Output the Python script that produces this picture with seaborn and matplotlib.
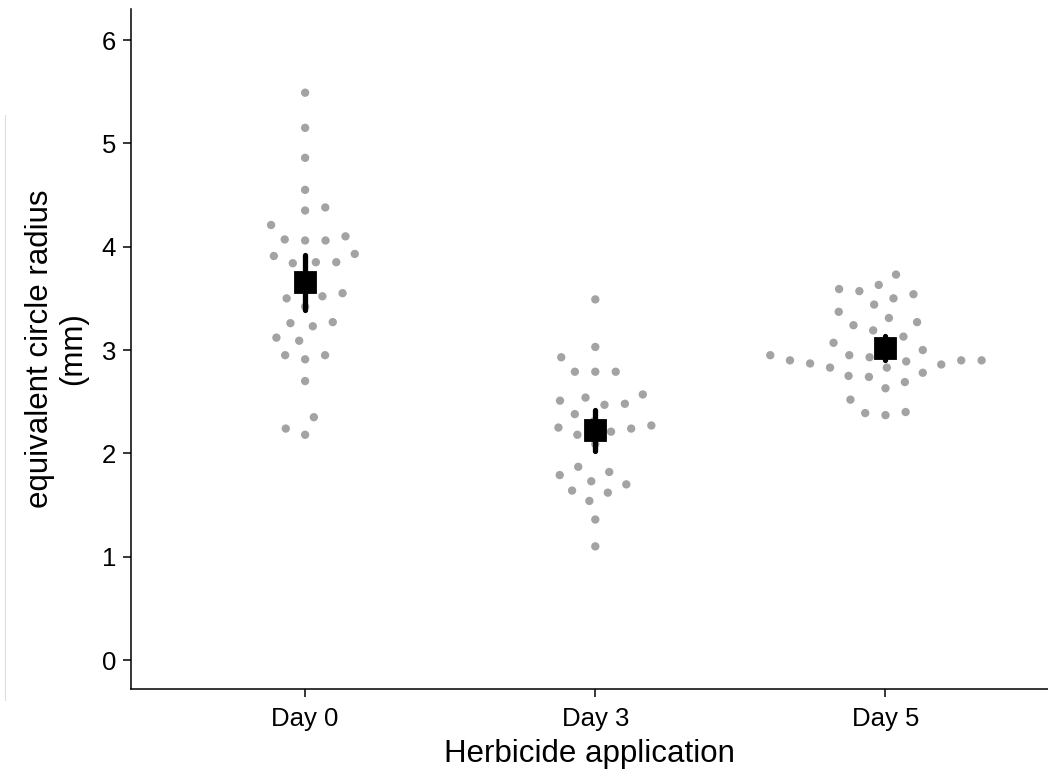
import pandas as pd
import matplotlib.pyplot as plt
from matplotlib.lines import Line2D
import seaborn as sns

# Values (equivalent circle radius, mm)
days = ['Day 0', 'Day 3', 'Day 5']

day0 = [5.49, 5.15, 4.86, 4.55, 4.38, 4.35, 4.21, 4.06, 4.07, 4.06, 4.10,
        3.93, 3.91, 3.85, 3.85, 3.84, 3.69, 3.55, 3.52, 3.50, 3.42, 3.27,
        3.26, 3.23, 3.12, 3.09, 2.95, 2.91, 2.95, 2.70, 2.35, 2.24, 2.18]
day3 = [3.49, 3.03, 2.93, 2.79, 2.79, 2.79, 2.54, 2.51, 2.57, 2.47, 2.48,
        2.38, 2.27, 2.25, 2.18, 2.24, 2.31, 2.21, 2.09, 1.87, 1.82, 1.79,
        1.73, 1.70, 1.62, 1.64, 1.54, 1.36, 1.10]
day5 = [3.73, 3.57, 3.63, 3.59, 3.54, 3.50, 3.44, 3.37, 3.31, 3.27, 3.24,
        3.19, 3.07, 3.00, 3.04, 3.13, 2.95, 2.93, 2.95, 2.90, 2.90, 2.86,
        2.89, 2.90, 2.87, 2.83, 2.83, 2.78, 2.75, 2.74, 2.69, 2.63, 2.52,
        2.39, 2.37, 2.40]

df = pd.DataFrame({
    'day': ['Day 0'] * len(day0) + ['Day 3'] * len(day3) + ['Day 5'] * len(day5),
    'radius': day0 + day3 + day5,
})

sns.set_style('ticks')
plt.rcParams['font.family'] = ['Liberation Sans', 'DejaVu Sans']
plt.rcParams['text.color'] = 'black'
plt.rcParams['axes.labelcolor'] = 'black'

fig = plt.figure(figsize=(10.48, 7.71), dpi=100)
ax = fig.add_axes([131 / 1048, 82 / 771, 917 / 1048, 680 / 771])

# individual measurements (invisible wide edge just spreads the swarm out)
sns.swarmplot(data=df, x='day', y='radius', order=days, color='#a3a3a3',
              size=6, linewidth=8, edgecolor='none', ax=ax, zorder=1)

# mean with 95% CI
sns.pointplot(data=df, x='day', y='radius', order=days, color='black',
              markers='s', markersize=14.5, linestyle='none',
              errorbar=('se', 1.96), err_kws={'linewidth': 3.8}, ax=ax)

ax.set_xlim(-0.6, 2.56)
ax.set_ylim(-0.28, 6.3)
ax.set_yticks([0, 1, 2, 3, 4, 5, 6])

ax.set_xlabel('Herbicide application', fontsize=22.5, labelpad=6)
ax.set_ylabel('equivalent circle radius\n(mm)', fontsize=22.5, linespacing=1.1,
              labelpad=10)
ax.tick_params(axis='both', labelsize=18.5, length=5.8, width=1.1,
               color='black', labelcolor='black', pad=5)
ax.tick_params(axis='x', pad=7)

for side in ['top', 'right']:
    ax.spines[side].set_visible(False)
for side in ['left', 'bottom']:
    ax.spines[side].set_linewidth(1.1)
    ax.spines[side].set_color('black')

# faint rule at the far left of the reference
fig.add_artist(Line2D([4.5 / 1048, 4.5 / 1048], [1 - 115 / 771, 1 - 700 / 771],
                      color='#dddddd', linewidth=0.8))

plt.savefig('out.png', dpi=100)
